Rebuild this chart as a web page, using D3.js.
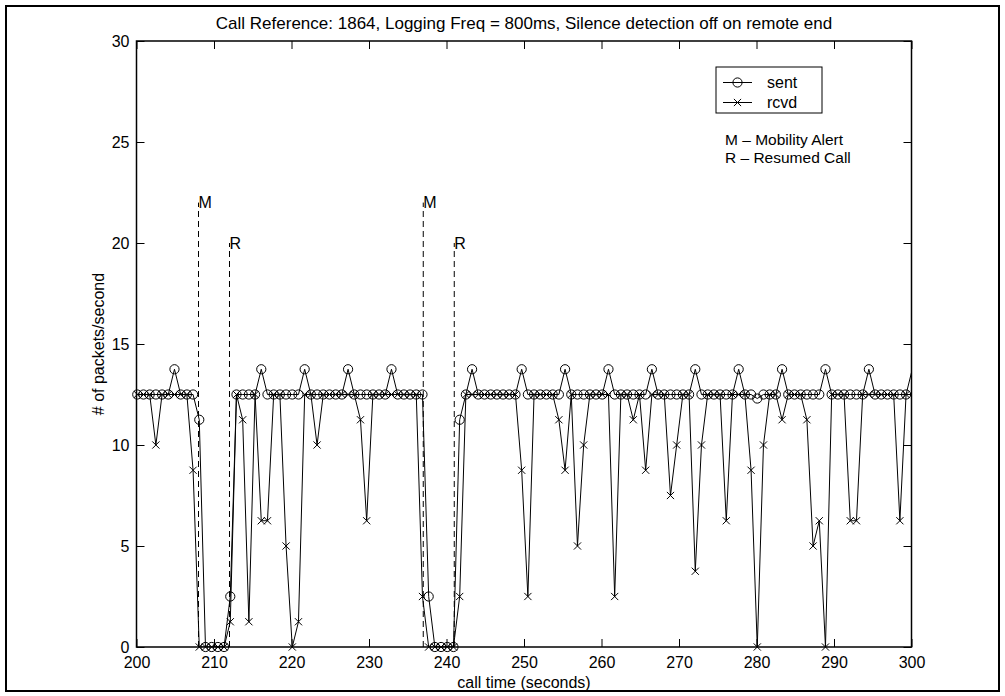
<!DOCTYPE html>
<html>
<head>
<meta charset="utf-8">
<script src="https://cdn.jsdelivr.net/npm/d3@7"></script>
<style>
    body { margin: 0; background: #fff; }
    svg text { font-family: "Liberation Sans", Arial, Helvetica, sans-serif; fill: #000; }
</style>
</head>
<body>
<div class="svg-container"></div>
<script>
/**************************
 * DATA
 **************************/

// call time of every logged sample (seconds)
let times = [
    200.1, 200.9, 201.7, 202.5, 203.3,
    204.1, 204.9, 205.7, 206.5, 207.3,
    208.1, 208.9, 209.7, 210.5, 211.3,
    212.1, 212.9, 213.7, 214.5, 215.3,
    216.1, 216.9, 217.7, 218.5, 219.3,
    220.1, 220.9, 221.7, 222.5, 223.3,
    224.1, 224.9, 225.7, 226.5, 227.3,
    228.1, 228.9, 229.7, 230.5, 231.3,
    232.1, 232.9, 233.7, 234.5, 235.3,
    236.1, 236.9, 237.7, 238.5, 239.3,
    240.1, 240.9, 241.7, 242.5, 243.3,
    244.1, 244.9, 245.7, 246.5, 247.3,
    248.1, 248.9, 249.7, 250.5, 251.3,
    252.1, 252.9, 253.7, 254.5, 255.3,
    256.1, 256.9, 257.7, 258.5, 259.3,
    260.1, 260.9, 261.7, 262.5, 263.3,
    264.1, 264.9, 265.7, 266.5, 267.3,
    268.1, 268.9, 269.7, 270.5, 271.3,
    272.1, 272.9, 273.7, 274.5, 275.3,
    276.1, 276.9, 277.7, 278.5, 279.3,
    280.1, 280.9, 281.7, 282.5, 283.3,
    284.1, 284.9, 285.7, 286.5, 287.3,
    288.1, 288.9, 289.7, 290.5, 291.3,
    292.1, 292.9, 293.7, 294.5, 295.3,
    296.1, 296.9, 297.7, 298.5, 299.3,
    300.1
];

// packets/second sent
let sent = [
    12.5, 12.5, 12.5, 12.5, 12.5,
    12.5, 13.75, 12.5, 12.5, 12.5,
    11.25, 0, 0, 0, 0,
    2.5, 12.5, 12.5, 12.5, 12.5,
    13.75, 12.5, 12.5, 12.5, 12.5,
    12.5, 12.5, 13.75, 12.5, 12.5,
    12.5, 12.5, 12.5, 12.5, 13.75,
    12.5, 12.5, 12.5, 12.5, 12.5,
    12.5, 13.75, 12.5, 12.5, 12.5,
    12.5, 12.5, 2.5, 0, 0,
    0, 0, 11.25, 12.5, 13.75,
    12.5, 12.5, 12.5, 12.5, 12.5,
    12.5, 12.5, 13.75, 12.5, 12.5,
    12.5, 12.5, 12.5, 12.5, 13.75,
    12.5, 12.5, 12.5, 12.5, 12.5,
    12.5, 13.75, 12.5, 12.5, 12.5,
    12.5, 12.5, 12.5, 13.75, 12.5,
    12.5, 12.5, 12.5, 12.5, 12.5,
    13.75, 12.5, 12.5, 12.5, 12.5,
    12.5, 12.5, 13.75, 12.5, 12.5,
    12.3, 12.5, 12.5, 12.5, 13.75,
    12.5, 12.5, 12.5, 12.5, 12.5,
    12.5, 13.75, 12.5, 12.5, 12.5,
    12.5, 12.5, 12.5, 13.75, 12.5,
    12.5, 12.5, 12.5, 12.5, 12.5,
    13.75
];

// packets/second received
let rcvd = [
    12.5, 12.5, 12.5, 10, 12.5,
    12.5, 12.5, 12.5, 12.5, 8.75,
    0, 0, 0, 0, 0,
    1.25, 12.5, 11.25, 1.25, 12.5,
    6.25, 6.25, 12.5, 12.5, 5,
    0, 1.25, 12.5, 12.5, 10,
    12.5, 12.5, 12.5, 12.5, 12.5,
    12.5, 11.25, 6.25, 12.5, 12.5,
    12.5, 12.5, 12.5, 12.5, 12.5,
    12.5, 2.5, 0, 0, 0,
    0, 0, 2.5, 12.5, 12.5,
    12.5, 12.5, 12.5, 12.5, 12.5,
    12.5, 12.5, 8.75, 2.5, 12.5,
    12.5, 12.5, 12.5, 11.25, 8.75,
    12.5, 5, 10, 12.5, 12.5,
    12.5, 12.5, 2.5, 12.5, 12.5,
    11.25, 12.5, 8.75, 12.5, 12.5,
    12.5, 7.5, 10, 12.5, 12.5,
    3.75, 10, 12.5, 12.5, 12.5,
    6.25, 12.5, 12.5, 12.5, 8.75,
    0, 10, 12.5, 12.5, 11.25,
    12.5, 12.5, 12.5, 11.25, 5,
    6.25, 0, 12.5, 12.5, 12.5,
    6.25, 6.25, 12.5, 12.5, 12.5,
    12.5, 12.5, 12.5, 6.25, 12.5,
    12.5
];

let xTicks = [200, 210, 220, 230, 240, 250, 260, 270, 280, 290, 300];
let yTicks = [0, 5, 10, 15, 20, 25, 30];

// event markers: M = mobility alert, R = resumed call
let eventTimes = [208, 212, 237, 241];
let eventTops = [22, 20, 22, 20];
let eventLabels = ["M", "R", "M", "R"];

let seriesNames = ["sent", "rcvd"];
let noteLines = ["M \u2013 Mobility Alert", "R \u2013 Resumed Call"];

let titleText = "Call Reference: 1864, Logging Freq = 800ms, Silence detection off on remote end";
let xLabel = "call time (seconds)";
let yLabel = "# of packets/second";

/**************************
 * LAYOUT
 **************************/

let width = 1005;
let height = 696;

let AX_LEFT = 136.5;
let AX_RIGHT = 911.5;
let AX_TOP = 41;
let AX_BOTTOM = 647;
let TICK_LEN = 8;
let FONT_SIZE = 16;

let svg = d3.select(".svg-container")
    .append("svg")
    .attr("width", width)
    .attr("height", height);

// frame round the whole figure
svg.append("rect")
    .attr("x", 6).attr("y", 6)
    .attr("width", width - 12).attr("height", height - 11)
    .attr("fill", "none")
    .attr("stroke", "#000")
    .attr("stroke-width", 2);

let x = d3.scaleLinear().domain([200, 300]).range([AX_LEFT, AX_RIGHT]);
let y = d3.scaleLinear().domain([0, 30]).range([AX_BOTTOM, AX_TOP]);

svg.append("clipPath").attr("id", "plotArea")
    .append("rect")
    .attr("x", AX_LEFT).attr("y", AX_TOP)
    .attr("width", AX_RIGHT - AX_LEFT).attr("height", AX_BOTTOM - AX_TOP);

/**************************
 * AXES (matlab style box, ticks inside)
 **************************/

function styleAxis(g)
{
    g.select(".domain").remove();
    g.selectAll(".tick line").attr("stroke", "#000").attr("stroke-width", 1);
    g.selectAll(".tick text")
        .style("font-size", FONT_SIZE + "px")
        .attr("fill", "#000");
}

svg.append("g")
    .attr("transform", "translate(0," + AX_BOTTOM + ")")
    .call(d3.axisBottom(x).tickValues(xTicks).tickSizeInner(-TICK_LEN).tickSizeOuter(0).tickPadding(10))
    .call(styleAxis);

svg.append("g")
    .attr("transform", "translate(0," + AX_TOP + ")")
    .call(d3.axisTop(x).tickValues(xTicks).tickSizeInner(-TICK_LEN).tickSizeOuter(0).tickFormat(""))
    .call(styleAxis);

svg.append("g")
    .attr("transform", "translate(" + AX_LEFT + ",0)")
    .call(d3.axisLeft(y).tickValues(yTicks).tickSizeInner(-TICK_LEN).tickSizeOuter(0).tickPadding(7))
    .call(styleAxis);

svg.append("g")
    .attr("transform", "translate(" + AX_RIGHT + ",0)")
    .call(d3.axisRight(y).tickValues(yTicks).tickSizeInner(-TICK_LEN).tickSizeOuter(0).tickFormat(""))
    .call(styleAxis);

svg.append("rect")
    .attr("x", AX_LEFT).attr("y", AX_TOP)
    .attr("width", AX_RIGHT - AX_LEFT).attr("height", AX_BOTTOM - AX_TOP)
    .attr("fill", "none")
    .attr("stroke", "#000")
    .attr("stroke-width", 1.5);

/**************************
 * SERIES
 **************************/

let points = times.map(function(t, i) { return {t: t, sent: sent[i], rcvd: rcvd[i]}; });
let inside = points.filter(function(d) { return d.t >= 200 && d.t <= 300; });

let plot = svg.append("g").attr("clip-path", "url(#plotArea)");

function seriesLine(key)
{
    return d3.line()
        .x(function(d) { return x(d.t); })
        .y(function(d) { return y(d[key]); });
}

seriesNames.forEach(function(key)
{
    plot.append("path")
        .datum(points)
        .attr("d", seriesLine(key))
        .attr("fill", "none")
        .attr("stroke", "#000")
        .attr("stroke-width", 1);
});

function drawCircle(g, cx, cy)
{
    g.append("circle")
        .attr("cx", cx).attr("cy", cy).attr("r", 4.6)
        .attr("fill", "none")
        .attr("stroke", "#000")
        .attr("stroke-width", 1);
}

function drawCross(g, cx, cy)
{
    let s = 3.6;
    g.append("path")
        .attr("d", "M" + (cx - s) + "," + (cy - s) + "L" + (cx + s) + "," + (cy + s) +
                   "M" + (cx - s) + "," + (cy + s) + "L" + (cx + s) + "," + (cy - s))
        .attr("stroke", "#000")
        .attr("stroke-width", 1);
}

let markers = svg.append("g");
inside.forEach(function(d) { drawCircle(markers, x(d.t), y(d.sent)); });
inside.forEach(function(d) { drawCross(markers, x(d.t), y(d.rcvd)); });

/**************************
 * EVENT LINES (M / R)
 **************************/

eventTimes.forEach(function(t, i)
{
    svg.append("line")
        .attr("x1", x(t)).attr("x2", x(t))
        .attr("y1", y(0)).attr("y2", y(eventTops[i]))
        .attr("stroke", "#000")
        .attr("stroke-width", 1)
        .attr("stroke-dasharray", "6,4");

    svg.append("text")
        .attr("x", x(t))
        .attr("y", y(eventTops[i]))
        .attr("dy", "0.35em")
        .style("font-size", FONT_SIZE + "px")
        .text(eventLabels[i]);
});

/**************************
 * LEGEND + NOTES
 **************************/

let legend = svg.append("g");
legend.append("rect")
    .attr("x", 716).attr("y", 67)
    .attr("width", 106).attr("height", 46)
    .attr("fill", "#fff")
    .attr("stroke", "#000")
    .attr("stroke-width", 1);

seriesNames.forEach(function(name, i)
{
    let ly = 82.5 + i * 20;
    legend.append("line")
        .attr("x1", 723).attr("x2", 752)
        .attr("y1", ly).attr("y2", ly)
        .attr("stroke", "#000").attr("stroke-width", 1);
    if (i === 0) drawCircle(legend, 737.5, ly); else drawCross(legend, 737.5, ly);
    legend.append("text")
        .attr("x", 767).attr("y", ly)
        .attr("dy", "0.35em")
        .style("font-size", FONT_SIZE + "px")
        .text(name);
});

// two text lines under the legend
noteLines.forEach(function(line, i)
{
    svg.append("text")
        .attr("x", 725).attr("y", 145 + i * 17.5)
        .style("font-size", "15.5px")
        .text(line);
});

/**************************
 * TITLES
 **************************/

svg.append("text")
    .attr("x", (AX_LEFT + AX_RIGHT) / 2).attr("y", 28.5)
    .attr("text-anchor", "middle")
    .style("font-size", "17px")
    .text(titleText);

svg.append("text")
    .attr("x", (AX_LEFT + AX_RIGHT) / 2).attr("y", 688)
    .attr("text-anchor", "middle")
    .style("font-size", FONT_SIZE + "px")
    .text(xLabel);

svg.append("text")
    .attr("transform", "translate(104," + (AX_TOP + AX_BOTTOM) / 2 + ") rotate(-90)")
    .attr("text-anchor", "middle")
    .style("font-size", FONT_SIZE + "px")
    .text(yLabel);
</script>
</body>
</html>
